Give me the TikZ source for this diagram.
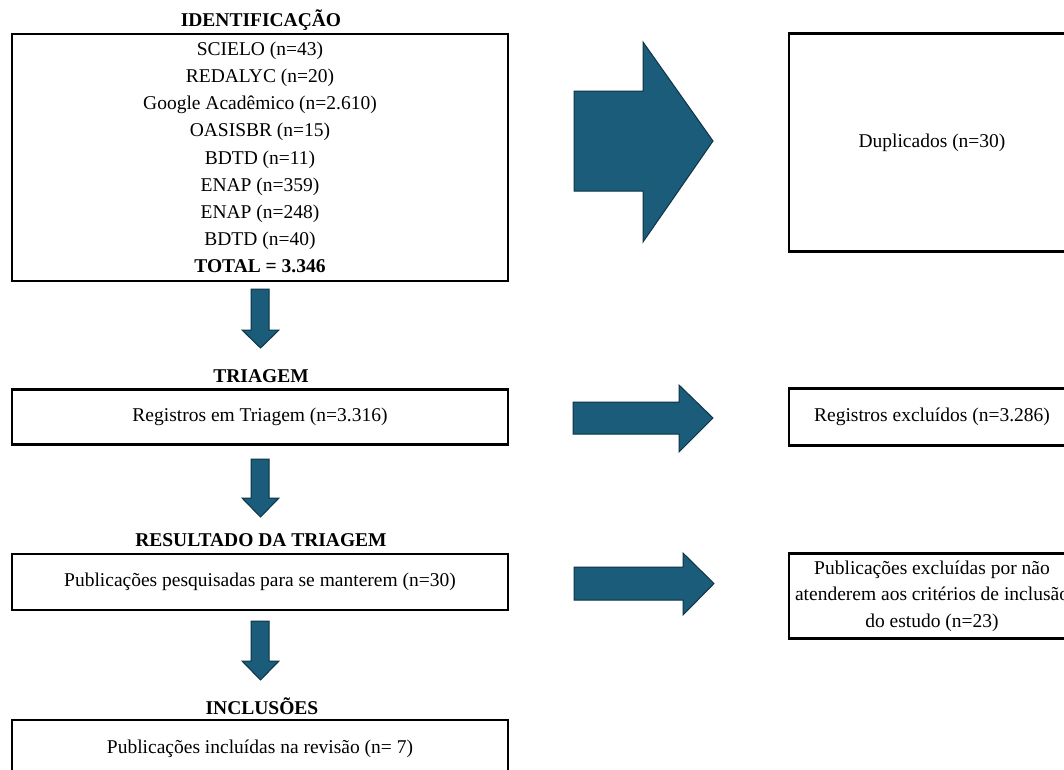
\documentclass[tikz,border=0pt]{standalone}
\usepackage{fontspec}
\setmainfont{Liberation Serif}
\definecolor{arrfill}{RGB}{26,92,122}
\definecolor{arrline}{RGB}{14,52,70}
\begin{document}
\begin{tikzpicture}[x=1pt,y=-1pt,
  box/.style={draw=black,line width=2.2pt,rectangle,inner sep=0pt,align=center,
    font=\fontsize{19.5}{27.2}\selectfont},
  hdr/.style={inner sep=0pt,font=\fontsize{19.5}{23}\selectfont\bfseries},
  blockarrow/.style={fill=arrfill,draw=arrline,line width=1pt,line join=miter}]
\useasboundingbox (0,0) rectangle (1064,769);
\clip (0,0) rectangle (1064,769);
\fill[white] (0,0) rectangle (1064,769);

% headers
\node[hdr] (h1) at (261,20) {IDENTIFICAÇÃO};
\node[hdr] (h2) at (261,376) {TRIAGEM};
\node[hdr] (h3) at (261,540) {RESULTADO DA TRIAGEM};
\node[hdr] (h4) at (262,706) {INCLUSÕES};

% left boxes
\node[box,minimum width=496pt,minimum height=247pt] (id) at (260,157.5)
  {SCIELO (n=43)\\ REDALYC (n=20)\\ Google Acadêmico (n=2.610)\\ OASISBR (n=15)\\
   BDTD (n=11)\\ ENAP (n=359)\\ ENAP (n=248)\\ BDTD (n=40)\\ \textbf{TOTAL = 3.346}};
\node[box,minimum width=496pt,minimum height=55pt] (tri) at (260,417)
  {Registros em Triagem (n=3.316)};
\node[box,minimum width=496pt,minimum height=56pt] (res) at (260,582)
  {Publicações pesquisadas para se manterem (n=30)};
\node[box,minimum width=496pt,minimum height=58pt] (inc) at (260,749)
  {Publicações incluídas na revisão (n= 7)};

% right boxes
\node[box,minimum width=286pt,minimum height=218pt] (dup) at (932,142.5)
  {Duplicados (n=30)};
\node[box,minimum width=286pt,minimum height=57pt] (rex) at (932,417)
  {Registros excluídos (n=3.286)};
\node[box,minimum width=286pt,minimum height=85pt,font=\fontsize{19.5}{26.7}\selectfont] (pex) at (932,596)
  {Publicações excluídas por não\\ atenderem aos critérios de inclusão\\ do estudo (n=23)};

% down block arrows
\newcommand{\darr}[3]{%
  \draw[blockarrow] (251,#1) -- (269,#1) -- (269,#2) -- (279,#2) -- (260.5,#3)
    -- (242,#2) -- (251,#2) -- cycle;}
\darr{289}{330}{348}
\darr{459}{498}{517}
\darr{621}{661}{680}

% right block arrows
\draw[blockarrow] (574,91) -- (643,91) -- (643,42) -- (713,141) -- (643,242) -- (643,191) -- (574,191) -- cycle;
\draw[blockarrow] (573,402) -- (679,402) -- (679,385) -- (713,418) -- (679,452) -- (679,434) -- (573,434) -- cycle;
\draw[blockarrow] (574,567) -- (683,567) -- (683,553) -- (714,583.5) -- (683,615) -- (683,600) -- (574,600) -- cycle;
\end{tikzpicture}
\end{document}
